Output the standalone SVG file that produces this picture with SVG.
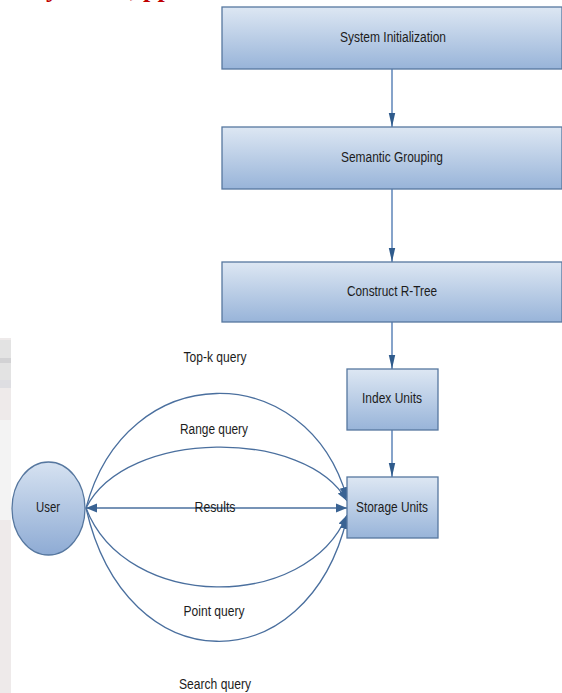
<svg xmlns="http://www.w3.org/2000/svg" width="562" height="693" viewBox="0 0 562 693">
<defs>
<linearGradient id="boxGrad" x1="0" y1="0" x2="0" y2="1">
<stop offset="0" stop-color="#dde7f3"/>
<stop offset="1" stop-color="#98b4d9"/>
</linearGradient>
<linearGradient id="userGrad" x1="0" y1="0" x2="0" y2="1">
<stop offset="0" stop-color="#d6e2f1"/>
<stop offset="1" stop-color="#8eabd4"/>
</linearGradient>
<marker id="vArrow" markerUnits="userSpaceOnUse" markerWidth="15" markerHeight="8" refX="14" refY="4" orient="auto">
<path d="M0,0.8 L14,4 L0,7.2 z" fill="#2f5b8c"/>
</marker>
<marker id="cArrow" markerUnits="userSpaceOnUse" markerWidth="12" markerHeight="10" refX="11" refY="5" orient="auto">
<path d="M0,0.5 L11,5 L0,9.5 z" fill="#3a6393"/>
</marker>
<marker id="cArrowStart" markerUnits="userSpaceOnUse" markerWidth="12" markerHeight="10" refX="11" refY="5" orient="auto-start-reverse">
<path d="M0,0.5 L11,5 L0,9.5 z" fill="#3a6393"/>
</marker>
</defs>
<style>
.box{fill:url(#boxGrad);stroke:#56779f;stroke-width:1.3}
.lbl{font-family:"Liberation Sans",Arial,sans-serif;font-size:14px;fill:#1c1c1c;text-anchor:middle}
.vconn{stroke:#86a3ca;stroke-width:2;fill:none}
.curve{stroke:#4a6f9e;stroke-width:1.3;fill:none}
.title{font-family:"Liberation Serif","Times New Roman",serif;font-weight:bold;font-size:26px;fill:#c00000}
</style>

<!-- faded background strip on left -->
<g id="background">
<rect x="0" y="338" width="11" height="355" fill="#eeeaea"/>
<rect x="0" y="340" width="11" height="40" fill="#e3e3e3"/>
<rect x="0" y="358" width="11" height="5" fill="#d2d2d4"/>
<rect x="0" y="380" width="11" height="8" fill="#dedee2"/>
<rect x="0" y="420" width="11" height="100" fill="#f3f3f3"/>
</g>

<!-- cut-off title fragments -->
<g id="title">
<text class="title" x="46" y="-3">y</text>
<text class="title" x="130" y="-3">,</text>
<text class="title" x="143" y="-3">pp</text>
</g>

<g id="connectors">
<line class="vconn" x1="392" y1="69" x2="392" y2="127" marker-end="url(#vArrow)"/>
<line class="vconn" x1="392" y1="189" x2="392" y2="262" marker-end="url(#vArrow)"/>
<line class="vconn" x1="392" y1="322" x2="392" y2="369" marker-end="url(#vArrow)"/>
<line class="vconn" x1="392" y1="430" x2="392" y2="477" marker-end="url(#vArrow)"/>
<path class="curve" d="M86,508 C126,357 307,357 347,498" marker-end="url(#cArrow)"/>
<path class="curve" d="M86,508 C126,428 307,428 347,501" marker-end="url(#cArrow)"/>
<path class="curve" d="M86,508 C126,612 307,612 347,515" marker-end="url(#cArrow)"/>
<path class="curve" d="M86,508 C126,684 307,684 347,518" marker-end="url(#cArrow)"/>
<line class="curve" x1="86" y1="508" x2="347" y2="508" marker-start="url(#cArrowStart)" marker-end="url(#cArrow)"/>
</g>

<g id="label-topk"><text class="lbl" x="215" y="362" textLength="63" lengthAdjust="spacingAndGlyphs">Top-k query</text></g>
<g id="label-range"><text class="lbl" x="214" y="434" textLength="68" lengthAdjust="spacingAndGlyphs">Range query</text></g>
<g id="label-results"><text class="lbl" x="215" y="512" textLength="41" lengthAdjust="spacingAndGlyphs">Results</text></g>
<g id="label-point"><text class="lbl" x="214" y="616" textLength="61" lengthAdjust="spacingAndGlyphs">Point query</text></g>
<g id="label-search"><text class="lbl" x="215" y="689" textLength="72" lengthAdjust="spacingAndGlyphs">Search query</text></g>

<g id="system-initialization">
<rect class="box" x="222" y="7" width="340" height="62"/>
<text class="lbl" x="393" y="42" textLength="106" lengthAdjust="spacingAndGlyphs">System Initialization</text>
</g>
<g id="semantic-grouping">
<rect class="box" x="222" y="127" width="340" height="62"/>
<text class="lbl" x="392" y="162" textLength="102" lengthAdjust="spacingAndGlyphs">Semantic Grouping</text>
</g>
<g id="construct-rtree">
<rect class="box" x="222" y="262" width="340" height="60"/>
<text class="lbl" x="392" y="296" textLength="90" lengthAdjust="spacingAndGlyphs">Construct R-Tree</text>
</g>
<g id="index-units">
<rect class="box" x="347" y="369" width="91" height="61"/>
<text class="lbl" x="392" y="403" textLength="60" lengthAdjust="spacingAndGlyphs">Index Units</text>
</g>
<g id="storage-units">
<rect class="box" x="347" y="477" width="91" height="61"/>
<text class="lbl" x="392" y="512" textLength="72" lengthAdjust="spacingAndGlyphs">Storage Units</text>
</g>
<g id="user">
<ellipse cx="48.5" cy="508.5" rx="36.5" ry="46.5" fill="url(#userGrad)" stroke="#56779f" stroke-width="1.3"/>
<text class="lbl" x="48" y="512" textLength="24" lengthAdjust="spacingAndGlyphs">User</text>
</g>
</svg>
